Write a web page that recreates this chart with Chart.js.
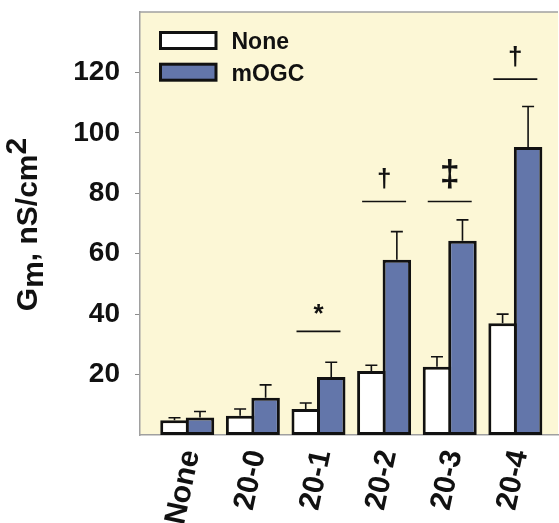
<!DOCTYPE html>
<html lang="en">
<head>
<meta charset="UTF-8">
<title>Gm by condition</title>
<script src="https://cdn.jsdelivr.net/npm/chart.js"></script>
<style>
  body { margin: 0; background: #fff; }
  .container { width: 559px; height: 523px; }
</style>
</head>
<body>
<div class="container"><canvas id="grafico"></canvas></div>
<script>
const categories = ['None', '20-0', '20-1', '20-2', '20-3', '20-4'];
const noneValues = [4.9, 6.4, 8.6, 21.2, 22.6, 37.0];
const noneErrors = [0.8, 2.2, 2.0, 1.9, 3.3, 3.0];
const mogcValues = [5.8, 12.3, 19.2, 58.0, 64.3, 95.3];
const mogcErrors = [2.0, 4.3, 4.9, 9.3, 6.9, 13.4];
const yTicks = [20, 40, 60, 80, 100, 120];
// significance bars: category index, height, symbol
const sigIndex = [2, 3, 4, 5];
const sigLevel = [34.3, 77.3, 77.3, 117.8];
const sigMark = ['*', '\u2020', '\u2021', '\u2020'];

const FONT = "'Liberation Sans', Arial, sans-serif";
const errors = [noneErrors, mogcErrors];

function noPadding(scale) {
    scale.paddingLeft = 0;
    scale.paddingRight = 0;
    scale.paddingTop = 0;
    scale.paddingBottom = 0;
}

const background = {
    id: 'background',
    beforeDraw(chart) {
        const { ctx, chartArea: a } = chart;
        ctx.save();
        ctx.fillStyle = '#fcf7d6';
        ctx.fillRect(a.left, a.top, a.right - a.left, a.bottom - a.top);
        ctx.strokeStyle = '#a0a0a0';
        ctx.lineWidth = 1.5;
        ctx.beginPath();
        ctx.moveTo(a.left, a.top);
        ctx.lineTo(a.right, a.top);
        ctx.stroke();
        ctx.restore();
    }
};

const errorBars = {
    id: 'errorBars',
    afterDatasetsDraw(chart) {
        const { ctx, scales: { y } } = chart;
        ctx.save();
        ctx.strokeStyle = '#111';
        ctx.lineWidth = 1.6;
        chart.data.datasets.forEach((ds, di) => {
            chart.getDatasetMeta(di).data.forEach((bar, i) => {
                const top = y.getPixelForValue(ds.data[i].y + errors[di][i]);
                ctx.beginPath();
                ctx.moveTo(bar.x, bar.y);
                ctx.lineTo(bar.x, top);
                ctx.moveTo(bar.x - 6, top);
                ctx.lineTo(bar.x + 6, top);
                ctx.stroke();
            });
        });
        ctx.restore();
    }
};

const significance = {
    id: 'significance',
    afterDatasetsDraw(chart) {
        const { ctx, scales: { x, y } } = chart;
        ctx.save();
        ctx.strokeStyle = '#111';
        ctx.fillStyle = '#111';
        ctx.lineWidth = 1.6;
        ctx.textAlign = 'center';
        ctx.textBaseline = 'alphabetic';
        sigIndex.forEach((idx, k) => {
            const x0 = x.getPixelForValue(idx - 0.335);
            const x1 = x.getPixelForValue(idx + 0.335);
            const ly = y.getPixelForValue(sigLevel[k]);
            ctx.beginPath();
            ctx.moveTo(x0, ly);
            ctx.lineTo(x1, ly);
            ctx.stroke();
            const mark = sigMark[k];
            const size = mark === '\u2021' ? 36 : 26;
            ctx.font = 'bold ' + size + 'px ' + FONT;
            const gap = mark === '*' ? 17 : 12;
            const m = ctx.measureText(mark);
            ctx.fillText(mark, (x0 + x1) / 2, ly - gap - m.actualBoundingBoxDescent);
        });
        ctx.restore();
    }
};

const legendBox = {
    id: 'legendBox',
    afterDraw(chart) {
        const { ctx, chartArea: a } = chart;
        ctx.save();
        ctx.font = 'bold 23px ' + FONT;
        ctx.textBaseline = 'alphabetic';
        chart.data.datasets.forEach((ds, i) => {
            const bx = a.left + 20.5, by = a.top + 20.5 + i * 31.7;
            ctx.fillStyle = ds.backgroundColor;
            ctx.fillRect(bx, by, 55.5, 16);
            ctx.lineWidth = 3;
            ctx.strokeStyle = '#111';
            ctx.strokeRect(bx, by, 55.5, 16);
            ctx.fillStyle = '#111';
            ctx.fillText(ds.label, bx + 71, by + 16.5);
        });
        ctx.restore();
    }
};

const yTitle = {
    id: 'yTitle',
    afterDraw(chart) {
        const { ctx, chartArea: a } = chart;
        const parts = [['G', 0], ['m', 6], [', nS/cm', 0], ['2', -11]];
        ctx.save();
        ctx.font = 'bold 30px ' + FONT;
        ctx.fillStyle = '#111';
        ctx.textBaseline = 'alphabetic';
        ctx.translate(37, (a.top + a.bottom) / 2 + 1);
        ctx.rotate(-Math.PI / 2);
        const total = parts.reduce((s, p) => s + ctx.measureText(p[0]).width, 0);
        let px = -total / 2;
        parts.forEach(([t, dy]) => {
            ctx.fillText(t, px, dy);
            px += ctx.measureText(t).width;
        });
        ctx.restore();
    }
};

const ctx = document.getElementById('grafico').getContext('2d');
new Chart(ctx, {
    type: 'bar',
    data: {
        datasets: [
            {
                label: 'None',
                data: noneValues.map((v, i) => ({ x: i, y: v })),
                backgroundColor: '#ffffff',
                borderColor: '#111',
                borderWidth: 3,
                borderSkipped: false
            },
            {
                label: 'mOGC',
                data: mogcValues.map((v, i) => ({ x: i, y: v })),
                backgroundColor: '#6376aa',
                borderColor: '#111',
                borderWidth: 3,
                borderSkipped: false
            }
        ]
    },
    options: {
        responsive: true,
        maintainAspectRatio: false,
        animation: false,
        devicePixelRatio: 1,
        categoryPercentage: 0.777,
        barPercentage: 1.118,
        layout: { padding: { top: 12, right: 1, left: 0, bottom: 0 } },
        plugins: {
            legend: { display: false },
            tooltip: { enabled: false }
        },
        scales: {
            x: {
                type: 'linear',
                offset: false,
                min: -0.72,
                max: 5.65,
                afterBuildTicks: (scale) => { scale.ticks = categories.map((c, i) => ({ value: i })); },
                afterFit: (scale) => { scale.height = 88; noPadding(scale); },
                grid: { display: false, drawTicks: false, offset: false },
                border: { color: '#a0a0a0', width: 1.5 },
                ticks: {
                    autoSkip: false,
                    minRotation: 78,
                    maxRotation: 78,
                    padding: 12,
                    labelOffset: 4,
                    color: '#111',
                    font: { family: FONT, size: 30, weight: 'bold' },
                    callback: (v) => categories[v] ?? ''
                }
            },
            y: {
                min: 0,
                max: 140,
                afterBuildTicks: (scale) => { scale.ticks = yTicks.map(v => ({ value: v })); },
                afterFit: (scale) => { scale.width = 140; noPadding(scale); },
                grid: { drawOnChartArea: false, tickLength: 5, color: '#8c8c8c' },
                border: { color: '#a0a0a0', width: 1.5 },
                ticks: {
                    padding: 15,
                    color: '#111',
                    font: { family: FONT, size: 28, weight: 'bold' }
                }
            }
        }
    },
    plugins: [background, errorBars, significance, legendBox, yTitle]
});
</script>
</body>
</html>
